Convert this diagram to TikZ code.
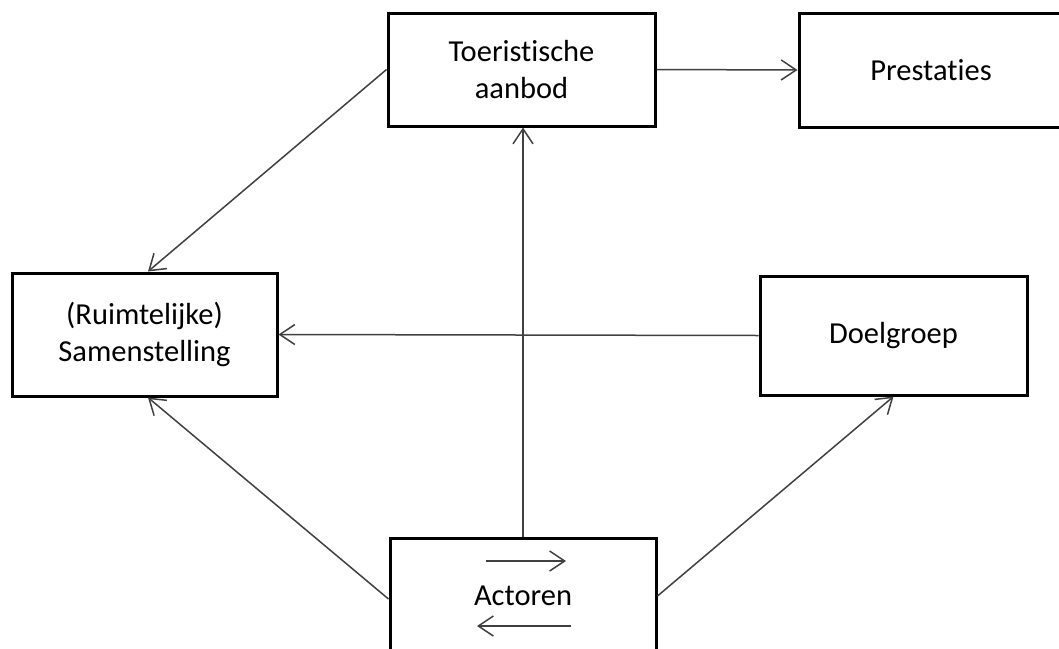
\documentclass[tikz,border=0pt]{standalone}
\usepackage{fontspec}
\setmainfont{Carlito}[Ligatures=NoCommon]
\usetikzlibrary{arrows.meta,positioning}
\begin{document}
\begin{tikzpicture}[x=1pt,y=-1pt,
  box/.style={draw=black,line width=3pt,fill=white,align=center,inner sep=0pt,
    font=\fontsize{30.5}{37}\selectfont},
  conn/.style={draw=black!75,line width=1.5pt,-{Straight Barb[length=15pt,width=20pt,line width=1.5pt]}}]
\useasboundingbox (0,0) rectangle (1059,648);
\node[box,minimum width=267pt,minimum height=113pt] (toer) at (521.5,69.5) {Toeristische\\aanbod};
\node[box,minimum width=264pt,minimum height=114pt] (prest) at (931,70) {Prestaties};
\node[box,minimum width=265pt,minimum height=123pt] (samen) at (144.5,334.5) {(Ruimtelijke)\\Samenstelling};
\node[box,minimum width=267pt,minimum height=119pt] (doel) at (893.5,335.5) {Doelgroep};
\node[box,minimum width=266pt,minimum height=116pt] (act) at (523,596) {Actoren};
\coordinate (a1) at (486,561);
\coordinate (a2) at (566,561);
\coordinate (b1) at (571,626);
\coordinate (b2) at (477,626);
\draw[conn] (toer.east) -- (prest.west);
\draw[conn] (act.north) -- (act.north |- toer.south);
\draw[conn] (doel.west) -- (samen.east);
\draw[conn] (toer.west) -- ([xshift=3.5pt]samen.north);
\draw[conn] ([yshift=-3pt]act.west) -- ([xshift=3.5pt]samen.south);
\draw[conn] (act.east) -- (doel.south);
\draw[conn] (a1) -- (a2);
\draw[conn] (b1) -- (b2);
\end{tikzpicture}
\end{document}
